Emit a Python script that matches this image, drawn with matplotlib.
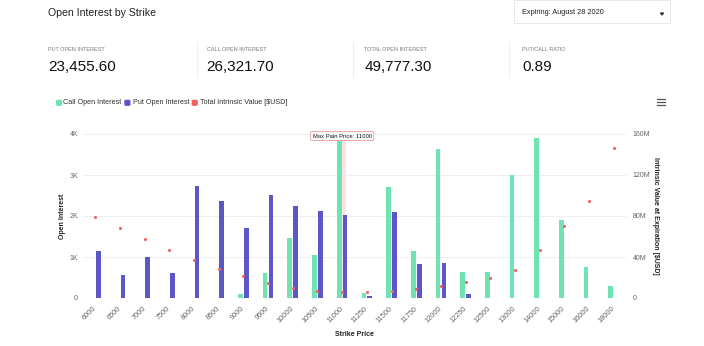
import matplotlib
matplotlib.use('Agg')
import matplotlib.pyplot as plt
import matplotlib.transforms as mtransforms
from matplotlib.patches import Rectangle, Polygon, FancyBboxPatch
from matplotlib.lines import Line2D
import numpy as np

plt.rcParams['font.family'] = ['Liberation Sans', 'DejaVu Sans']

W, H = 704, 346

# data
strikes = ['6000', '6500', '7000', '7500', '8000', '8500', '9000', '9500', '10000', '10500',
           '11000', '11250', '11500', '11750', '12000', '12250', '12500', '13000', '14000',
           '15000', '16000', '18000']
call_oi = [0, 0, 0, 0, 0, 10, 106, 610, 1470, 1057, 3950, 120, 2700, 1146, 3635, 634, 626,
           3000, 3910, 1900, 764, 293]
put_oi = [1150, 561, 1000, 602, 2725, 2370, 1715, 2520, 2250, 2130, 2015, 40, 2100, 830, 845,
          106, 10, 10, 5, 5, 0, 0]
intrinsic_m = [79.3, 68.3, 57.6, 47.2, 37.1, 28.3, 21.1, 14.6, 9.8, 6.8, 5.5, 6.2, 6.8, 8.8,
               11.4, 15.3, 19.2, 27.3, 46.5, 69.9, 94.6, 146.3]
max_pain = '11000'

stat_names = ['PUT OPEN INTEREST', 'CALL OPEN INTEREST', 'TOTAL OPEN INTEREST', 'PUT/CALL RATIO']
stat_values = ['23,455.60', '26,321.70', '49,777.30', '0.89']

left_ticks = [0, 1000, 2000, 3000, 4000]
left_labels = ['0', '1K', '2K', '3K', '4K']
right_ticks = [0, 40, 80, 120, 160]
right_labels = ['0', '40M', '80M', '120M', '160M']

green = '#6fe3b1'
blue = '#5b57c8'
red = '#f26262'
grey = '#666666'


def fx(x):
    return x / W


def fy(y):
    return 1 - y / H


fig = plt.figure(figsize=(W / 100, H / 100), dpi=100)

# header
fig.text(fx(48), fy(12.7), 'Open Interest by Strike', fontsize=7.6, color='#222222',
         va='center', ha='left')

fig.patches.append(Rectangle((fx(514), fy(23)), fx(670) - fx(514), fy(0) - fy(23),
                             transform=fig.transFigure, facecolor='white',
                             edgecolor='#e4e4e4', lw=0.6))
fig.text(fx(521.7), fy(12.3), 'Expiring: August 28 2020', fontsize=5.3, color='#222222',
         va='center', ha='left')
fig.patches.append(Polygon([(fx(660.5), fy(13)), (fx(663.5), fy(13)), (fx(662), fy(15))],
                           closed=True, transform=fig.transFigure, color='#333333'))

stat_x = [48, 206.7, 364.3, 522.3]
for x, name, val in zip(stat_x, stat_names, stat_values):
    fig.text(fx(x), fy(49.3), name, fontsize=4, color='#777777', va='center', ha='left')
    fig.text(fx(x), fy(66.7), val, fontsize=11, color='#111111', va='center', ha='left')
for x in [196.7, 353.3, 509]:
    fig.lines.append(Line2D([fx(x), fx(x)], [fy(42), fy(77)], transform=fig.transFigure,
                            color='#eeeeee', lw=0.7))

# legend
leg = [(56.7, 63.3, green, 'Call Open Interest'),
       (125, 132.7, blue, 'Put Open Interest'),
       (192.3, 200, red, 'Total Intrinsic Value [$USD]')]
for sx, tx, c, lab in leg:
    fig.patches.append(FancyBboxPatch((fx(sx), fy(105.2)), fx(4.8), 4.8 / H,
                                      boxstyle='round,pad=0,rounding_size=0.002',
                                      transform=fig.transFigure, color=c))
    fig.text(fx(tx), fy(102.8), lab, fontsize=5.2, color='#333333', va='center', ha='left')

# menu icon
for y in [98.5, 101.5, 104.5]:
    fig.lines.append(Line2D([fx(657), fx(665)], [fy(y), fy(y)], transform=fig.transFigure,
                            color='#555555', lw=0.9))

# chart
ax = fig.add_axes([fx(83), fy(298), fx(626) - fx(83), fy(134) - fy(298)])
x = np.arange(len(strikes))
mp = strikes.index(max_pain)
ax.axvline(mp, color='#fde3e3', lw=5, zorder=0.5)
ax.bar(x - 0.12, call_oi, width=0.19, color=green, zorder=2)
ax.bar(x + 0.12, put_oi, width=0.19, color=blue, zorder=2)
ax.set_xlim(-0.5, len(strikes) - 0.5)
ax.set_ylim(0, 4000)
ax.set_yticks(left_ticks)
ax.set_yticklabels(left_labels)
ax.set_xticks(x)
ax.set_xticklabels(strikes, rotation=45, ha='right', rotation_mode='anchor', va='center')
ax.tick_params(axis='x', length=0, pad=7, labelsize=5.3, labelcolor=grey)
ax.tick_params(axis='y', length=0, pad=3.6, labelsize=5, labelcolor=grey)
ax.grid(axis='y', color='#ececec', lw=0.6, zorder=0)
ax.set_axisbelow(True)
for s in ax.spines.values():
    s.set_visible(False)

ax2 = ax.twinx()
ax2.scatter(x, intrinsic_m, s=5, color=red, zorder=3, linewidths=0)
ax2.set_ylim(0, 160)
ax2.set_yticks(right_ticks)
ax2.set_yticklabels(right_labels)
ax2.tick_params(axis='y', length=0, pad=4.8, labelsize=5, labelcolor=grey)
for s in ax2.spines.values():
    s.set_visible(False)

# max pain label
tr = mtransforms.blended_transform_factory(ax.transData, fig.transFigure)
ax.text(mp, fy(136), 'Max Pain Price: ' + max_pain, transform=tr, fontsize=4.2,
        color='#111111', ha='center', va='center', zorder=5,
        bbox=dict(boxstyle='round,pad=0.35,rounding_size=0.2', facecolor='white',
                  edgecolor='#ef9a9a', lw=0.6))

# axis titles
fig.text(fx(354.5), fy(335), 'Strike Price', fontsize=5, fontweight='bold', color='#222222',
         ha='center', va='center')
fig.text(fx(63), fy(216), 'Open Interest', fontsize=5, fontweight='bold', color='#222222',
         ha='center', va='center', rotation=90)
fig.text(fx(655), fy(216), 'Intrinsic Value at Expiration [$USD]', fontsize=5,
         fontweight='bold', color='#222222', ha='center', va='center', rotation=270)

fig.savefig('out.png', dpi=100)
